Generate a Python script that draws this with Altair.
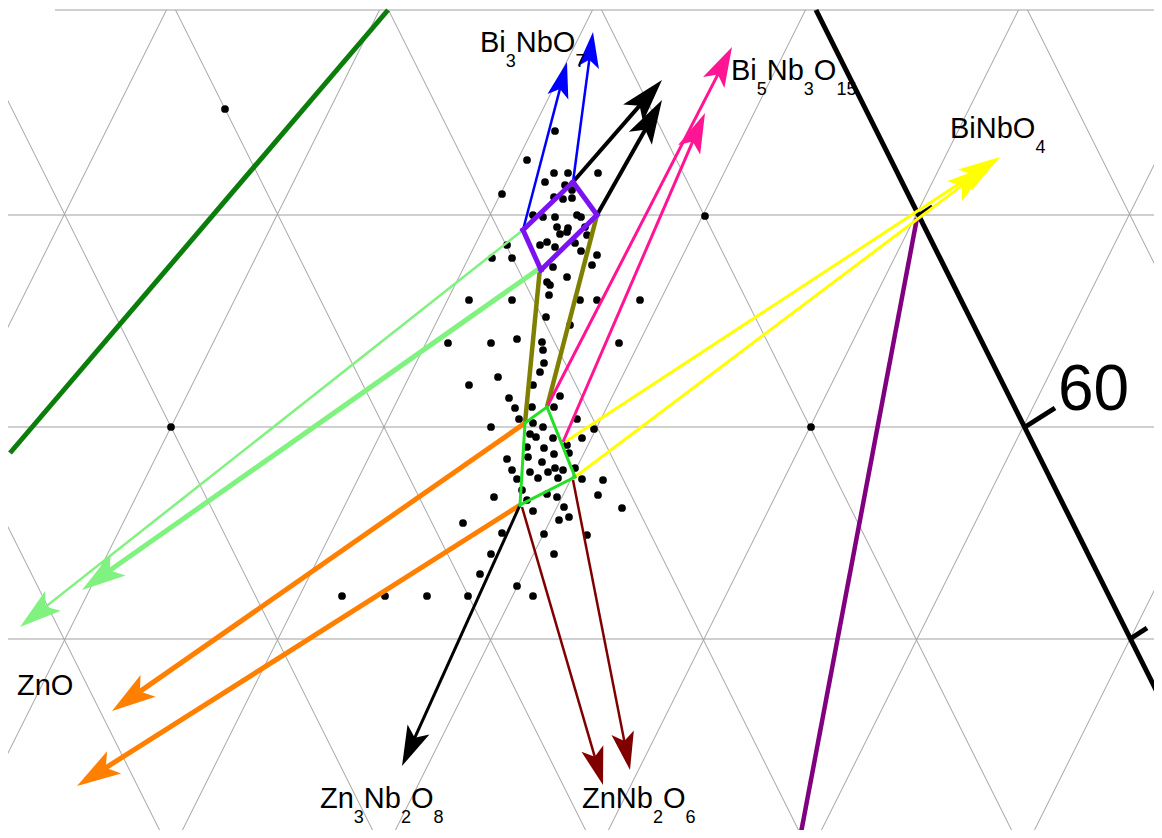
import math
import altair as alt
import pandas as pd

# ---------------- data (plot units: x to the right, y downward) ----------------
grid_rows = [215, 427, 639]                       # horizontal grid lines
top_line = [55, 1162, 10]                         # x start, x end, y
lattice_x = [-42, 171, 384, 597, 810, 1023, 1236] # lattice nodes on row y=427
lattice_row = 427

dot_x = [555, 527, 554, 568, 598, 545, 565, 572, 502, 554, 563, 572, 533, 543, 555, 577, 581, 557, 568, 585,
         560, 567, 587, 547, 540, 507, 555, 575, 581, 492, 512, 597, 553, 592, 567, 547, 550, 549,
         469, 512, 580, 597, 640, 546, 570, 448, 491, 517, 542, 543, 619, 544, 540, 498, 469, 533, 509,
         560, 515, 532, 554, 519, 533, 543, 577, 491, 594,
         530, 536, 553, 582, 527, 544, 567, 554, 569, 507, 528, 542, 512, 530, 548, 555, 563, 575, 517,
         538, 558, 582, 603, 522, 547, 557, 494, 598, 527, 564, 622, 533, 559, 569, 463, 502, 544, 587,
         491, 554, 480, 517, 342, 385, 427, 468, 533,
         225, 705, 171, 811]
dot_y = [131, 160, 173, 173, 173, 182, 185, 190, 194, 197, 199, 198, 215, 217, 217, 215, 217, 227, 228, 227,
         234, 232, 235, 242, 245, 245, 247, 243, 251, 258, 258, 255, 267, 265, 277, 282, 285, 295,
         300, 300, 300, 300, 300, 317, 325, 343, 343, 339, 342, 350, 343, 363, 372, 377, 385, 385, 398,
         396, 408, 407, 407, 419, 423, 427, 419, 427, 429,
         434, 437, 438, 438, 447, 448, 445, 454, 453, 459, 457, 462, 470, 472, 472, 468, 470, 468, 479,
         478, 478, 479, 480, 490, 494, 497, 497, 495, 500, 507, 508, 511, 520, 517, 523, 533, 534, 535,
         554, 554, 574, 586, 596, 596, 596, 596, 596,
         109, 216, 427, 427]

# plain lines (diagram boundary, tie lines, ticks)
line_x0 = [388, 816, 917, 1025, 1130, 918, 525, 547]
line_y0 = [10, 10, 218, 427, 639, 215, 423, 407]
line_x1 = [10, 1230, 800, 1055, 1147, 932, 540, 597]
line_y1 = [453, 838, 838, 408, 628, 206, 268, 215]
line_color = ["#0b7d0b", "#000000", "#800080", "#000000", "#000000", "#000000", "#808000", "#808000"]
line_width = [5, 5, 4.5, 5, 5, 3, 4.5, 4.5]

# closed polygons
poly_name = ["box"] * 4 + ["quad"] * 4
poly_x = [523, 573, 597, 541, 525, 547, 575, 520]
poly_y = [230, 182, 215, 270, 423, 407, 477, 505]
poly_color = {"box": "#7a12f2", "quad": "#22e022"}
poly_width = {"box": 5, "quad": 3}

# arrows: start -> tip
arr_x0 = [523, 540, 525, 520, 520, 522, 573, 565, 575, 548, 563, 573, 597, 523, 573]
arr_y0 = [230, 268, 423, 505, 505, 507, 480, 442, 477, 405, 442, 182, 215, 230, 182]
arr_x1 = [20, 82, 112, 77, 402, 603, 630, 1000, 988, 732, 705, 662, 662, 567, 593]
arr_y1 = [627, 590, 711, 786, 766, 785, 770, 157, 166, 47, 113, 80, 100, 62, 32]
arr_color = ["#7ff27f", "#7ff27f", "#ff8000", "#ff8000", "#000000", "#800000", "#800000",
             "#ffff00", "#ffff00", "#ff1493", "#ff1493", "#000000", "#000000", "#0000ff", "#0000ff"]
arr_width = [2.5, 5, 5, 5, 3, 2.5, 2.5, 3, 3, 3, 3, 4, 4, 2.5, 2.5]
arr_head = [21, 22, 22, 22, 20, 19, 19, 21, 21, 20, 20, 22, 22, 18, 18]   # head scale, px

# labels: pieces ("_" prefix = subscript) with the anchor of the first piece
lab_pieces = [["Bi", "_3", "NbO", "_7"],
              ["Bi", "_5", "Nb", "_3", "O", "_15"],
              ["BiNbO", "_4"],
              ["ZnO"],
              ["Zn", "_3", "Nb", "_2", "O", "_8"],
              ["ZnNb", "_2", "O", "_6"],
              ["60"]]
lab_x = [480, 731, 950, 17, 320, 582, 1058]
lab_y = [52, 80, 138, 695, 808, 808, 410]
lab_size = [29, 29, 29, 29, 29, 29, 64]
sub_size = 18
sub_drop = 15

FONT = "Liberation Sans, Arial, sans-serif"
ARROW = "M0,0L0.6,2L0,1.55L-0.6,2Z"
ADV = {"B": .667, "i": .222, "N": .722, "b": .556, "O": .778, "Z": .611, "n": .556}

# ---------------- build tables ----------------
XS = alt.Scale(domain=[8, 1154], nice=False, zero=False)
YS = alt.Scale(domain=[830, 8], nice=False, zero=False)


def X(f):
    return alt.X(f"{f}:Q", scale=XS, axis=None)


def Y(f):
    return alt.Y(f"{f}:Q", scale=YS, axis=None)


grid_rows_df = []
for yy in grid_rows:
    grid_rows_df.append(dict(x=0, y=yy, x2=1200, y2=yy))
grid_rows_df.append(dict(x=top_line[0], y=top_line[2], x2=top_line[1], y2=top_line[2]))
y_top, y_bot = 10, 860
for c in lattice_x:
    grid_rows_df.append(dict(x=c + (lattice_row - y_top) * 0.5, y=y_top,
                             x2=c + (lattice_row - y_bot) * 0.5, y2=y_bot))
    grid_rows_df.append(dict(x=c - (lattice_row - y_top) * 0.5, y=y_top,
                             x2=c - (lattice_row - y_bot) * 0.5, y2=y_bot))
grid_df = pd.DataFrame(grid_rows_df)

dots_df = pd.DataFrame({"x": dot_x, "y": dot_y})

lines_df = pd.DataFrame({"x": line_x0, "y": line_y0, "x2": line_x1, "y2": line_y1,
                         "c": line_color, "w": line_width})

prow = []
for name in ["box", "quad"]:
    pts = [(px, py) for n, px, py in zip(poly_name, poly_x, poly_y) if n == name]
    for i in range(len(pts)):
        a, b = pts[i], pts[(i + 1) % len(pts)]
        prow.append(dict(x=a[0], y=a[1], x2=b[0], y2=b[1], c=poly_color[name], w=poly_width[name]))
poly_df = pd.DataFrame(prow)

shaft_rows, head_rows = [], []
for x0, y0, x1, y1, c, w, s in zip(arr_x0, arr_y0, arr_x1, arr_y1, arr_color, arr_width, arr_head):
    dx, dy = x1 - x0, y1 - y0
    L = math.hypot(dx, dy)
    ux, uy = dx / L, dy / L
    back = 1.2 * s
    shaft_rows.append(dict(x=x0, y=y0, x2=x1 - ux * back, y2=y1 - uy * back, c=c, w=w))
    ang = math.degrees(math.atan2(dx, -dy)) % 360
    head_rows.append(dict(x=x1, y=y1, a=ang, s=(2 * s) ** 2, c=c))
shaft_df = pd.DataFrame(shaft_rows)
head_df = pd.DataFrame(head_rows)

trows = []
for pieces, x0, y0, fs in zip(lab_pieces, lab_x, lab_y, lab_size):
    cx = x0
    for p in pieces:
        if p.startswith("_"):
            t, size, yy = p[1:], sub_size, y0 + sub_drop
        else:
            t, size, yy = p, fs, y0
        trows.append(dict(t=t, x=cx, y=yy, fs=size))
        cx += sum(ADV.get(ch, 0.556) for ch in t) * size
text_df = pd.DataFrame(trows)

# ---------------- layers ----------------
grid = alt.Chart(grid_df).mark_rule(clip=True, color="#a0a0a0", strokeWidth=1).encode(
    x=X("x"), y=Y("y"), x2="x2:Q", y2="y2:Q")

dots = alt.Chart(dots_df).mark_circle(size=60, color="black", opacity=1, clip=True).encode(
    x=X("x"), y=Y("y"))

lines = alt.Chart(lines_df).mark_rule(clip=True, strokeCap="butt").encode(
    x=X("x"), y=Y("y"), x2="x2:Q", y2="y2:Q",
    color=alt.Color("c:N", scale=None),
    strokeWidth=alt.StrokeWidth("w:Q", scale=None))

shafts = alt.Chart(shaft_df).mark_rule(clip=True, strokeCap="butt").encode(
    x=X("x"), y=Y("y"), x2="x2:Q", y2="y2:Q",
    color=alt.Color("c:N", scale=None),
    strokeWidth=alt.StrokeWidth("w:Q", scale=None))

heads = alt.Chart(head_df).mark_point(shape=ARROW, filled=True, opacity=1, clip=True,
                                      strokeWidth=0).encode(
    x=X("x"), y=Y("y"),
    angle=alt.Angle("a:Q", scale=None),
    size=alt.Size("s:Q", scale=None),
    color=alt.Color("c:N", scale=None))

polys = alt.Chart(poly_df).mark_rule(clip=True, strokeCap="square").encode(
    x=X("x"), y=Y("y"), x2="x2:Q", y2="y2:Q",
    color=alt.Color("c:N", scale=None),
    strokeWidth=alt.StrokeWidth("w:Q", scale=None))

texts = alt.Chart(text_df).mark_text(align="left", baseline="alphabetic", font=FONT,
                                     color="black").encode(
    x=X("x"), y=Y("y"), text="t:N", size=alt.Size("fs:Q", scale=None))

chart = alt.layer(grid, dots, lines, shafts, heads, polys, texts).properties(
    width=1146, height=822, padding=0,
    autosize=alt.AutoSizeParams(type="none"),
).configure_view(stroke=None)

chart.save("out.html", embed_options={"renderer": "svg", "actions": False})
